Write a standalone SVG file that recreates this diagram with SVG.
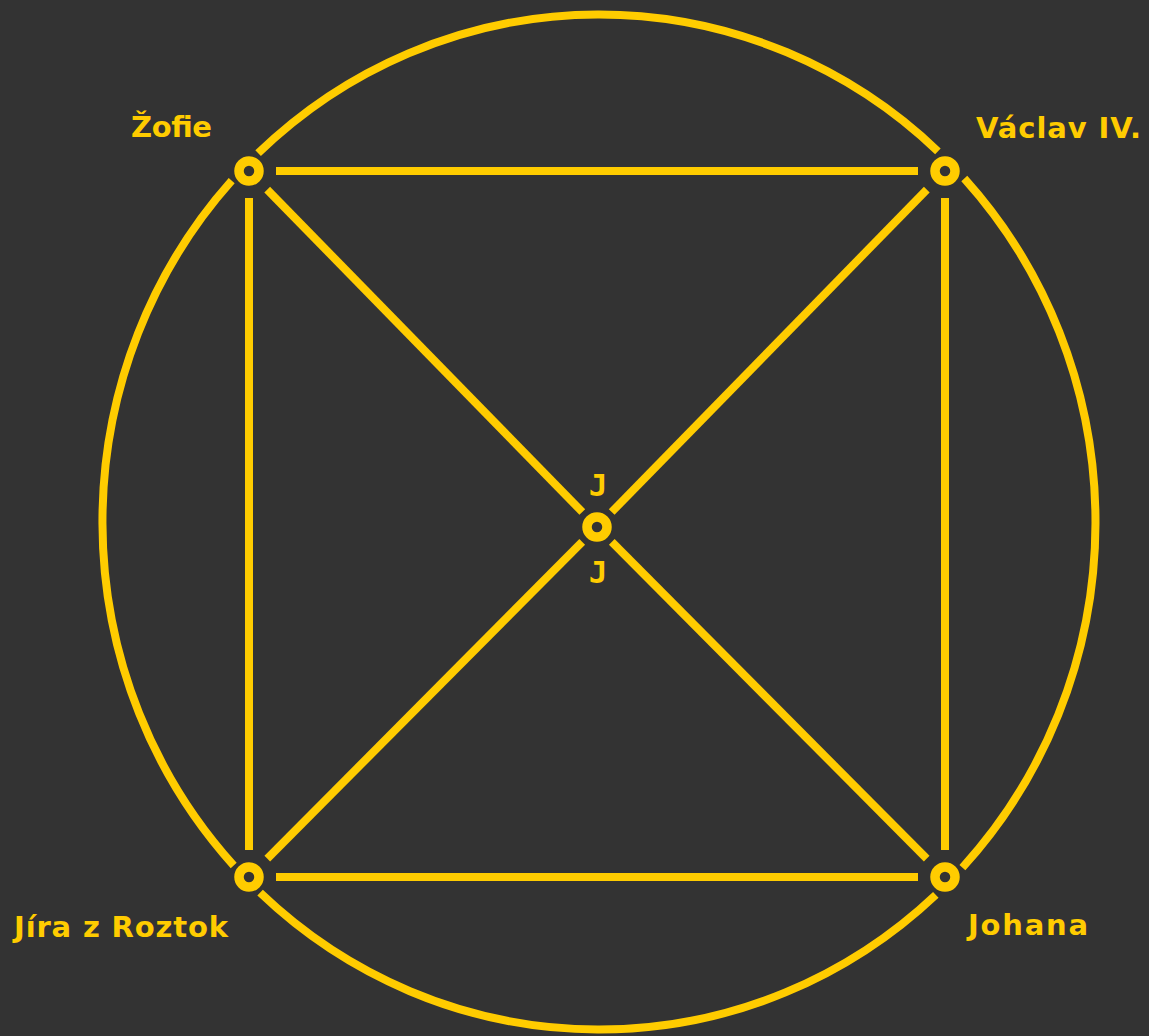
<svg xmlns="http://www.w3.org/2000/svg" width="1149" height="1036" viewBox="0 0 1149 1036">
  <style>
    .edge { stroke: #FFCC00; stroke-width: 8; fill: none; stroke-linecap: butt; }
    .node { stroke: #FFCC00; stroke-width: 9.5; fill: none; }
    .label { fill: #FFCC00; font-family: "DejaVu Sans", Verdana, sans-serif; font-weight: bold; font-size: 29px; }
    .mono { fill: #FFCC00; font-family: "DejaVu Sans Mono", monospace; font-weight: bold; font-size: 31px; text-anchor: middle; }
  </style>
  <rect width="1149" height="1036" fill="#333333"/>
  <g id="connectors">
    <path class="edge" d="M258.1,153.2 A496,507 0 0 1 937.9,151.3"/>
    <path class="edge" d="M964.3,178.5 A496,507 0 0 1 962.4,867.6"/>
    <path class="edge" d="M935.8,894.8 A496,507 0 0 1 260.1,892.7"/>
    <path class="edge" d="M233.7,865.5 A496,507 0 0 1 231.7,180.6"/>
    <line class="edge" x1="276" y1="171" x2="918" y2="171"/>
    <line class="edge" x1="276" y1="877" x2="918" y2="877"/>
    <line class="edge" x1="249" y1="198" x2="249" y2="850"/>
    <line class="edge" x1="945" y1="198" x2="945" y2="850"/>
    <line class="edge" x1="267.2" y1="189.6" x2="582.3" y2="512"/>
    <line class="edge" x1="926.8" y1="189.6" x2="611.7" y2="512"/>
    <line class="edge" x1="267.3" y1="858.6" x2="582.2" y2="541.9"/>
    <line class="edge" x1="926.7" y1="858.6" x2="611.8" y2="541.9"/>
  </g>
  <g id="node-zofie">
    <circle class="node" cx="249" cy="171" r="10"/>
    <text class="label" x="131" y="137" textLength="81">Žofie</text>
  </g>
  <g id="node-vaclav">
    <circle class="node" cx="945" cy="171" r="10"/>
    <text class="label" x="976" y="138" textLength="165">Václav IV.</text>
  </g>
  <g id="node-jira">
    <circle class="node" cx="249" cy="877" r="10"/>
    <text class="label" x="14" y="937" textLength="214">Jíra z Roztok</text>
  </g>
  <g id="node-johana">
    <circle class="node" cx="945" cy="877" r="10"/>
    <text class="label" x="968" y="935" textLength="120">Johana</text>
  </g>
  <g id="node-center">
    <circle class="node" cx="597" cy="527" r="10"/>
    <text class="mono" x="598" y="496">J</text>
    <text class="mono" x="598" y="583">J</text>
  </g>
</svg>
